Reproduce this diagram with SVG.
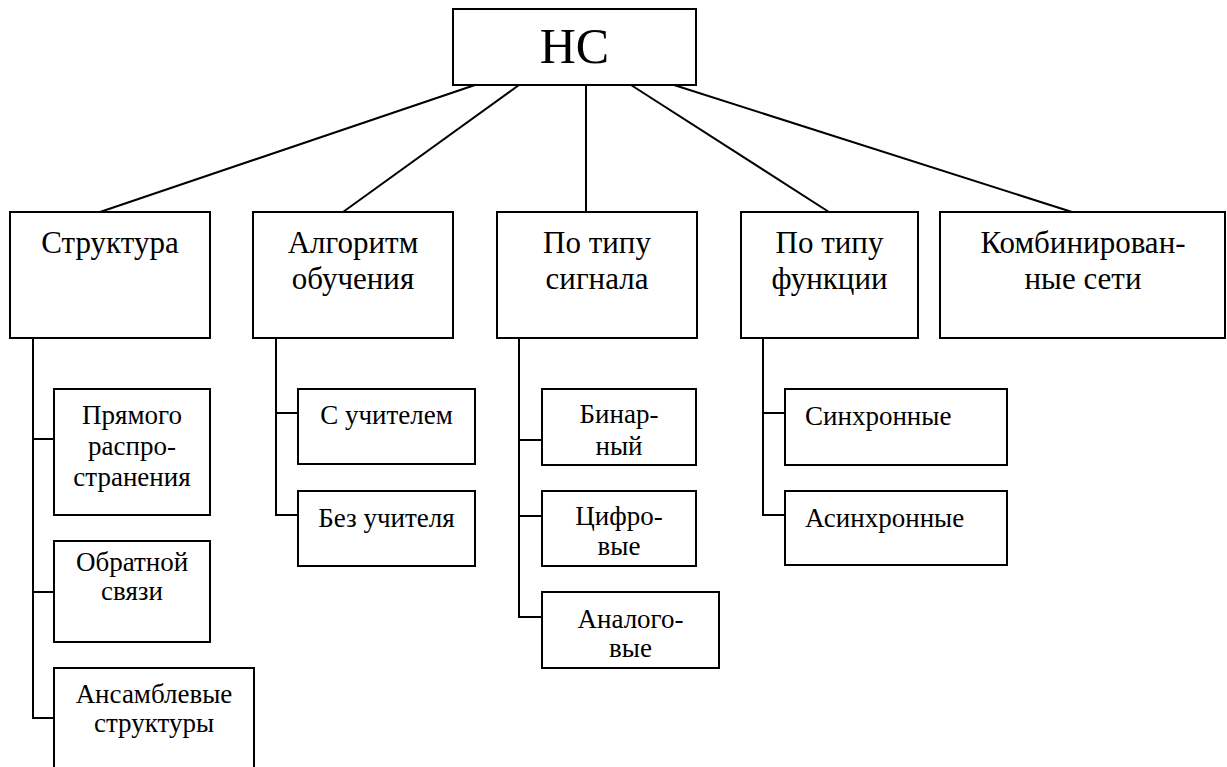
<svg xmlns="http://www.w3.org/2000/svg" width="1227" height="767" viewBox="0 0 1227 767" font-family="'Liberation Serif', Tinos, 'Times New Roman', 'DejaVu Serif', serif">
  <style>
    .box { fill: #ffffff; stroke: #000000; stroke-width: 2; }
    .wire { fill: none; stroke: #000000; stroke-width: 2; }
    .t { font-family: 'Liberation Serif', Tinos, 'Times New Roman', 'DejaVu Serif', serif; fill: #000000; }
    .root { font-size: 50px; text-anchor: middle; }
    .cat { font-size: 31px; text-anchor: middle; }
    .leaf { font-size: 27px; text-anchor: middle; }
    .leafL { font-size: 27px; text-anchor: start; }
  </style>
  <rect width="1227" height="767" fill="#ffffff"/>

  <g id="connectors">
    <!-- root to categories -->
    <line class="wire" x1="475" y1="85" x2="100" y2="212"/>
    <line class="wire" x1="519" y1="85" x2="343" y2="212"/>
    <line class="wire" x1="586" y1="85" x2="586" y2="212"/>
    <line class="wire" x1="631" y1="85" x2="829" y2="212"/>
    <line class="wire" x1="674" y1="85" x2="1072" y2="212"/>
    <!-- Структура branch -->
    <polyline class="wire" points="33,338 33,718 54,718"/>
    <line class="wire" x1="33" y1="439" x2="54" y2="439"/>
    <line class="wire" x1="33" y1="592" x2="54" y2="592"/>
    <!-- Алгоритм обучения branch -->
    <polyline class="wire" points="276,338 276,515 298,515"/>
    <line class="wire" x1="276" y1="413" x2="298" y2="413"/>
    <!-- По типу сигнала branch -->
    <polyline class="wire" points="519,338 519,617 542,617"/>
    <line class="wire" x1="519" y1="440" x2="542" y2="440"/>
    <line class="wire" x1="519" y1="516" x2="542" y2="516"/>
    <!-- По типу функции branch -->
    <polyline class="wire" points="763,338 763,515 785,515"/>
    <line class="wire" x1="763" y1="413" x2="785" y2="413"/>
  </g>

  <g id="root">
    <rect class="box" x="453" y="9" width="243" height="76"/>
    <text class="t root" x="574.5" y="63">НС</text>
  </g>

  <g id="cat-structure">
    <rect class="box" x="10" y="212" width="200" height="126"/>
    <text class="t cat" x="110" y="253">Структура</text>
  </g>
  <g id="cat-learning">
    <rect class="box" x="253" y="212" width="200" height="126"/>
    <text class="t cat" x="353" y="253">Алгоритм</text>
    <text class="t cat" x="353" y="289">обучения</text>
  </g>
  <g id="cat-signal">
    <rect class="box" x="497" y="212" width="200" height="126"/>
    <text class="t cat" x="597" y="253">По типу</text>
    <text class="t cat" x="597" y="289">сигнала</text>
  </g>
  <g id="cat-function">
    <rect class="box" x="741" y="212" width="177" height="126"/>
    <text class="t cat" x="829.5" y="253">По типу</text>
    <text class="t cat" x="829.5" y="289">функции</text>
  </g>
  <g id="cat-combined">
    <rect class="box" x="940" y="212" width="285" height="126"/>
    <text class="t cat" x="1083" y="253">Комбинирован-</text>
    <text class="t cat" x="1083" y="289">ные сети</text>
  </g>

  <g id="feedforward">
    <rect class="box" x="54" y="389" width="156" height="126"/>
    <text class="t leaf" x="132" y="424">Прямого</text>
    <text class="t leaf" x="132" y="455">распро-</text>
    <text class="t leaf" x="132" y="486">странения</text>
  </g>
  <g id="feedback">
    <rect class="box" x="54" y="541" width="156" height="101"/>
    <text class="t leaf" x="132" y="571">Обратной</text>
    <text class="t leaf" x="132" y="600">связи</text>
  </g>
  <g id="ensemble">
    <rect class="box" x="54" y="668" width="200" height="110"/>
    <text class="t leaf" x="154" y="703">Ансамблевые</text>
    <text class="t leaf" x="154" y="732">структуры</text>
  </g>

  <g id="supervised">
    <rect class="box" x="298" y="389" width="177" height="75"/>
    <text class="t leaf" x="386.5" y="424">С учителем</text>
  </g>
  <g id="unsupervised">
    <rect class="box" x="298" y="491" width="177" height="75"/>
    <text class="t leaf" x="386.5" y="527">Без учителя</text>
  </g>

  <g id="binary">
    <rect class="box" x="542" y="389" width="154" height="76"/>
    <text class="t leaf" x="619" y="423">Бинар-</text>
    <text class="t leaf" x="619" y="455">ный</text>
  </g>
  <g id="digital">
    <rect class="box" x="542" y="491" width="154" height="75"/>
    <text class="t leaf" x="619" y="525">Цифро-</text>
    <text class="t leaf" x="619" y="555">вые</text>
  </g>
  <g id="analog">
    <rect class="box" x="542" y="592" width="177" height="76"/>
    <text class="t leaf" x="630.5" y="628">Аналого-</text>
    <text class="t leaf" x="630.5" y="657">вые</text>
  </g>

  <g id="synchronous">
    <rect class="box" x="785" y="389" width="222" height="76"/>
    <text class="t leafL" x="805" y="425">Синхронные</text>
  </g>
  <g id="asynchronous">
    <rect class="box" x="785" y="491" width="222" height="74"/>
    <text class="t leafL" x="805" y="527">Асинхронные</text>
  </g>
</svg>
